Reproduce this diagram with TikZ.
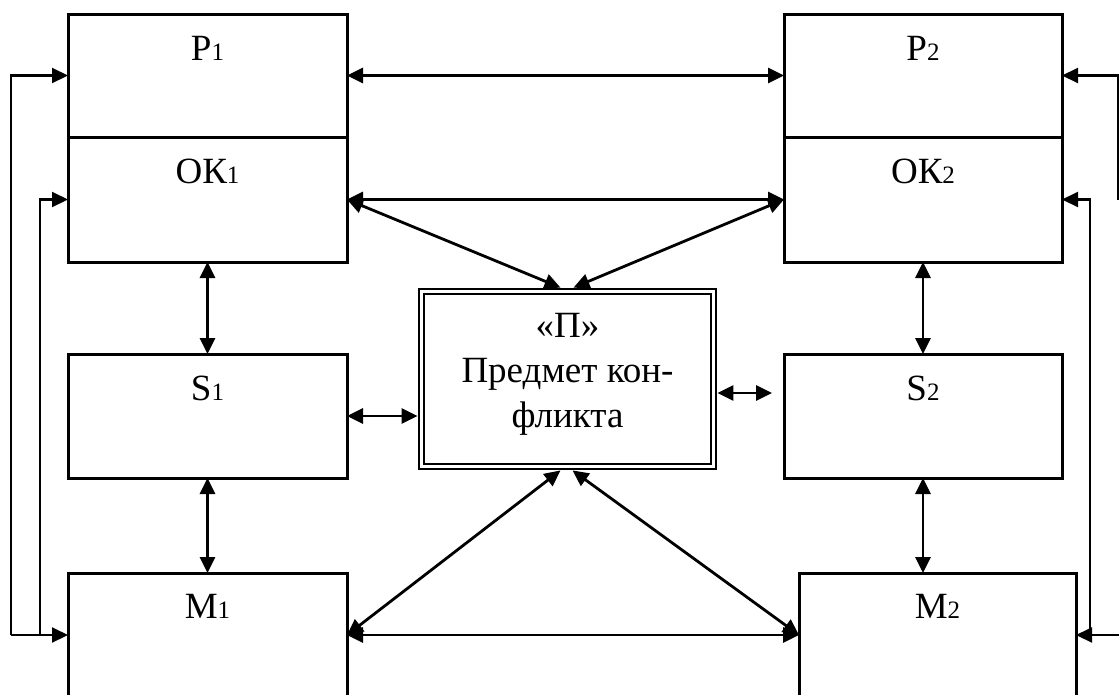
\documentclass[tikz,border=0pt]{standalone}
\usepackage{fontspec}
\setmainfont{Liberation Serif}
\usetikzlibrary{arrows.meta,calc}
\newcommand\mysub[1]{{\fontsize{25}{25}\selectfont #1}}
\tikzset{
  box/.style={draw, line width=3pt, rectangle, inner sep=0pt, outer sep=0pt, minimum width=279pt},
  lab/.style={font=\fontsize{37}{44}\selectfont, inner sep=0pt, anchor=base},
  bi/.style={{Triangle[length=16pt,width=15pt]}-{Triangle[length=16pt,width=15pt]}, line width=2.8pt},
  fb/.style={-{Triangle[length=16pt,width=15pt]}, line width=2.1pt},
}
\begin{document}
\begin{tikzpicture}[x=1pt,y=-1pt]
\useasboundingbox (0,0) rectangle (1119,694);
\clip (0,0) rectangle (1119,694);
% left column
\node[box, minimum height=123pt] (P1) at (207.5,75.5) {};
\node[box, minimum height=125pt] (OK1) at (207.5,199.5) {};
\node[box, minimum height=124pt] (S1) at (207.5,416) {};
\node[box, minimum height=124pt] (M1) at (207.5,635) {};
% right column
\node[box, minimum width=278pt, minimum height=123pt] (P2) at (923,75.5) {};
\node[box, minimum width=278pt, minimum height=125pt] (OK2) at (923,199.5) {};
\node[box, minimum width=278pt, minimum height=124pt] (S2) at (923,416) {};
\node[box, minimum width=277pt, minimum height=124pt] (M2) at (937.5,635) {};
% centre
\node[draw, double, double distance=2.8pt, line width=2.5pt, inner sep=0pt, outer sep=3.9pt,
      minimum width=292pt, minimum height=175pt] (C) at (567.5,379) {};
\node[font=\fontsize{37}{45}\selectfont, align=center, inner sep=0pt] (CT) at (567.5,374.5)
  {«П»\\Предмет кон-\\фликта};
% labels
\node[lab] (lP1) at ($(P1.north)+(0,46)$) {Р\mysub{1}};
\node[lab] (lOK1) at ($(OK1.north)+(0,46)$) {ОК\mysub{1}};
\node[lab] (lS1) at ($(S1.north)+(0,46)$) {S\mysub{1}};
\node[lab] (lM1) at ($(M1.north)+(0,45)$) {М\mysub{1}};
\node[lab] (lP2) at ($(P2.north)+(0,46)$) {Р\mysub{2}};
\node[lab] (lOK2) at ($(OK2.north)+(0,46)$) {ОК\mysub{2}};
\node[lab] (lS2) at ($(S2.north)+(0,46)$) {S\mysub{2}};
\node[lab] (lM2) at ($(M2.north)+(0,45)$) {М\mysub{2}};
% bidirectional connectors
\draw[bi] (P1.east) -- (P2.west);
\draw[bi] (OK1.east) -- (OK2.west);
\draw[bi] (OK1.east) -- ($(C.north)+(-7,0)$);
\draw[bi] (OK2.west) -- ($(C.north)+(6,0)$);
\draw[bi] (OK1.south) -- (S1.north);
\draw[bi] (S1.south) -- (M1.north);
\draw[bi] (OK2.south) -- (S2.north);
\draw[bi] (S2.south) -- (S2.south |- M2.north);
\draw[bi] (S1.east) -- (S1.east -| C.west);
\coordinate (cr) at (772,393);
\draw[bi] (C.east |- cr) -- (cr);
\draw[bi] (M1.east) -- (M2.west);
\draw[bi] ($(C.south)+(-7,0)$) -- (M1.east);
\draw[bi] ($(C.south)+(5,0)$) -- (M2.west);
% feedback lines, left
\coordinate (lo) at (11,0);
\coordinate (li) at (40,0);
\draw[fb] (M1.west -| lo) |- (P1.west);
\draw[fb] (M1.west -| lo) -- (M1.west);
\draw[fb] (M1.west -| li) |- (OK1.west);
% feedback lines, right
\coordinate (ro) at (1118,200);
\coordinate (re) at (1119,635);
\coordinate (ri) at (1090,0);
\draw[fb] (ro) |- (P2.east);
\draw[fb] (re) -- (M2.east);
\draw[fb] (M2.east -| ri) |- (OK2.east);
\end{tikzpicture}
\end{document}
